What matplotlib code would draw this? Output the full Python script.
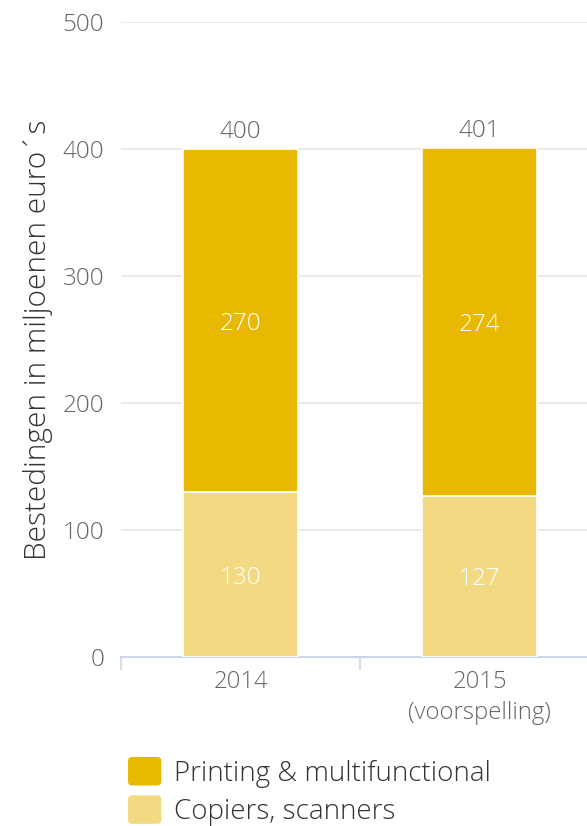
import matplotlib
matplotlib.use("Agg")
import matplotlib.pyplot as plt
from matplotlib.patches import Patch, FancyBboxPatch
from matplotlib.legend_handler import HandlerPatch
import numpy as np

categories = ["2014", "2015\n(voorspelling)"]
copiers = [130, 127]
printing = [270, 274]
totals = [400, 401]
series_names = ["Printing & multifunctional", "Copiers, scanners"]
yticks = [0, 100, 200, 300, 400, 500]

C_PRINT = "#E8B900"
C_COPY = "#F3DA82"

plt.rcParams['font.family'] = ['Open Sans', 'DejaVu Sans']
plt.rcParams['font.weight'] = 300

W, H = 587, 826
fig = plt.figure(figsize=(W / 100, H / 100), dpi=100)
# axes spans x 121..599 px, y 22..657 px
ax = fig.add_axes([121 / W, 1 - 657 / H, (599 - 121) / W, (657 - 22) / H])

x = np.arange(len(categories))
bw = 0.477
ax.bar(x, copiers, width=bw, color=C_COPY, edgecolor="white", linewidth=1.2, zorder=3)
ax.bar(x, printing, width=bw, bottom=copiers, color=C_PRINT, edgecolor="white", linewidth=1.2, zorder=3)

FS = 17.5
for i in range(len(categories)):
    ax.annotate(str(copiers[i]), xy=(x[i], copiers[i] / 2), xytext=(0, -2.2),
                textcoords="offset points", ha="center", va="center",
                color="white", fontsize=FS, fontweight=300, zorder=4)
    ax.annotate(str(printing[i]), xy=(x[i], copiers[i] + printing[i] / 2), xytext=(0, -2.2),
                textcoords="offset points", ha="center", va="center",
                color="white", fontsize=FS, fontweight=300, zorder=4)
    ax.annotate(str(totals[i]), xy=(x[i], totals[i]), xytext=(0, 3.5),
                textcoords="offset points", ha="center", va="bottom",
                color="#666666", fontsize=FS, fontweight=300, zorder=4)

ax.set_xlim(-0.5, len(categories) - 0.5)
ax.set_ylim(0, 500)
ax.set_yticks(yticks)
ax.set_yticklabels([str(v) for v in yticks], fontsize=FS, color="#666666", fontweight=300)
ax.yaxis.grid(True, color="#E6E6E6", linewidth=1.2, zorder=0)
ax.set_axisbelow(True)
ax.tick_params(axis="y", length=0, pad=12)

# category labels at centers, ticks at boundaries
ax.set_xticks(np.arange(-0.5, len(categories) + 0.5, 1.0))
ax.set_xticklabels([])
ax.tick_params(axis="x", length=9, width=1.2, color="#CCD6EB", direction="out")
for i, c in enumerate(categories):
    ax.annotate(c, xy=(x[i], 0), xycoords=("data", "axes fraction"),
                xytext=(0, -9), textcoords="offset points", ha="center", va="top",
                fontsize=17.2, color="#666666", fontweight=300, linespacing=1.4)

for s in ["top", "right", "left"]:
    ax.spines[s].set_visible(False)
ax.spines["bottom"].set_color("#CCD6EB")
ax.spines["bottom"].set_linewidth(1.5)

ax.set_ylabel("Bestedingen in miljoenen euro\u00b4s", fontsize=21.5, color="#333333",
              fontweight=300, labelpad=7)


class RoundHandler(HandlerPatch):
    def create_artists(self, legend, orig_handle, xdescent, ydescent, width, height, fontsize, trans):
        p = FancyBboxPatch((-xdescent + 2, -ydescent + 2), width - 4, height - 4,
                           boxstyle="round,pad=2,rounding_size=3",
                           facecolor=orig_handle.get_facecolor(), edgecolor="none",
                           transform=trans)
        return [p]


handles = [Patch(facecolor=C_PRINT, edgecolor="none"), Patch(facecolor=C_COPY, edgecolor="none")]
fig.legend(handles, series_names, loc="upper left", bbox_to_anchor=(103 / W, 1 - 732 / H),
           frameon=False, handlelength=1.2, handleheight=1.2,
           handletextpad=0.45, labelspacing=0.28, labelcolor="#333333",
           handler_map={Patch: RoundHandler()},
           prop={'family': ['Open Sans', 'DejaVu Sans'], 'weight': 300, 'size': 20})

fig.savefig("out.png", dpi=100)
